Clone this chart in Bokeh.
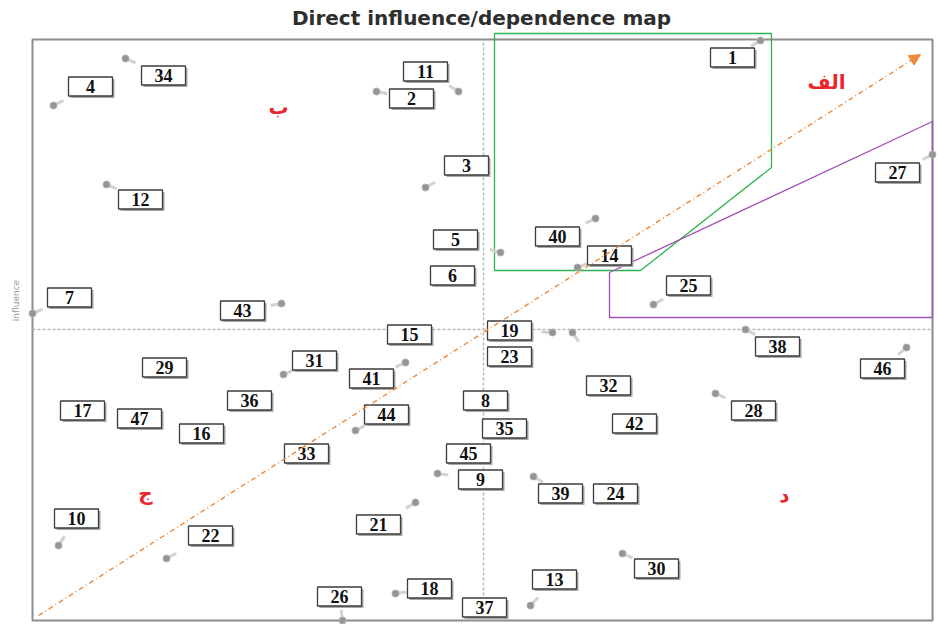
import math
from bokeh.plotting import figure
from bokeh.models import Range1d, Arrow, NormalHead, ColumnDataSource
from bokeh.core.properties import value
from bokeh.embed import file_html
from bokeh.resources import INLINE

# ---------------- data ----------------
var_ids = ["1", "2", "3", "4", "5", "6", "7", "8", "9", "10", "11", "12", "13", "14", "15",
           "16", "17", "18", "19", "21", "22", "23", "24", "25", "26", "27", "28", "29", "30",
           "31", "32", "33", "34", "35", "36", "37", "38", "39", "40", "41", "42", "43", "44",
           "45", "46", "47"]
dependence = [728, 344, 393, 21, 468, 420, 0, 453, 405, 26, 426, 74, 498, 545, 377,
              169, 50, 363, 520, 383, 134, 477, 583, 621, 310, 900, 683, 132, 590,
              251, 540, 274, 93, 472, 217, 452, 713, 501, 563, 373, 602, 249, 323,
              436, 874, 107]
influence = [580, 529, 433, 515, 368, 345, 307, 220, 147, 75, 529, 436, 15, 353, 286,
             187, 210, 27, 288, 118, 62, 264, 127, 316, 0, 466, 227, 253, 67,
             246, 288, 167, 562, 192, 220, 13, 291, 144, 402, 258, 197, 317, 190,
             167, 273, 202]
# label-box offsets from each point (layout)
label_dx = [-28, 35, 41, 37, -45, 0, 37, 0, 43, 18, -33, 34, 24, 32, 0,
            0, 0, 34, -43, -37, 44, 0, 0, 35, -3, -35, 38, 0, 34,
            31, 36, 0, 38, 0, 0, 0, 32, 27, -38, -34, 0, -39, 31,
            0, -24, 0]
label_dy = [-17, -7, 22, 19, 13, 0, 16, 0, -6, 27, 20, -15, 26, 12, 0,
            0, 0, 5, 2, -22, 23, 0, 0, 19, 24, -18, -17, 0, -15,
            14, -53, 0, -17, 0, 0, 0, -17, -17, -18, -16, 0, -7, 16,
            0, -21, 0]

mean_dependence = 451
mean_influence = 291

zone_green_x = [462, 739, 739, 608, 462]
zone_green_y = [587, 587, 453, 350, 350]
zone_purple_x = [577, 900, 900, 577]
zone_purple_y = [348, 499, 303, 303]

diagonal_x = [6, 888]
diagonal_y = [5, 566]

zone_names = ["الف", "ب", "ج", "د"]
zone_name_x = [794, 246, 113, 752]
zone_name_y = [539, 514, 128, 126]

title_text = "Direct influence/dependence map"
y_label_text = "influence"

# ---------------- figure ----------------
p = figure(width=938, height=624, x_range=Range1d(-32, 906), y_range=Range1d(-4, 620),
           output_backend="svg", toolbar_location=None,
           x_axis_location=None, y_axis_location=None,
           min_border=0, min_border_left=0, min_border_right=0,
           min_border_top=0, min_border_bottom=0)
p.xgrid.visible = False
p.ygrid.visible = False
p.outline_line_color = None
p.background_fill_color = "white"
p.border_fill_color = "white"

# frame
p.quad(left=0, right=900, bottom=0, top=581, fill_color=None,
       line_color="#8c8c8c", line_width=2)

# quadrant mean lines
p.segment(x0=[mean_dependence, 0], y0=[0, mean_influence],
          x1=[mean_dependence, 900], y1=[581, mean_influence],
          line_color="#b8b8b8", line_width=1.5, line_dash="3 2")

# zones
p.patch(zone_green_x, zone_green_y, fill_color=None, line_color="#2fb34f", line_width=1.3)
p.patch(zone_purple_x, zone_purple_y, fill_color=None, line_color="#a24fb8", line_width=1.3)

# diagonal arrow
p.add_layout(Arrow(end=NormalHead(size=11, fill_color="#f0883a", line_color="#f0883a"),
                   x_start=diagonal_x[0], y_start=diagonal_y[0],
                   x_end=diagonal_x[1], y_end=diagonal_y[1],
                   line_color="#f0883a", line_width=1.4, line_dash="5 3 1 3"))

# points with tails towards their labels
bx = [d + dx for d, dx in zip(dependence, label_dx)]
by = [i + dy for i, dy in zip(influence, label_dy)]
tx, ty = [], []
for d, i, dx, dy in zip(dependence, influence, label_dx, label_dy):
    n = math.hypot(dx, dy)
    if n == 0:
        tx.append(d); ty.append(i)
    else:
        tx.append(d + dx / n * 11); ty.append(i + dy / n * 11)

p.segment(x0=dependence, y0=influence, x1=tx, y1=ty, line_color="#d2d2d2", line_width=3)
p.scatter(dependence, influence, size=7, fill_color="#959595", line_color="#b0b0b0",
          line_width=1)

# label boxes
src = ColumnDataSource(dict(x=bx, y=by, sx=[v + 2 for v in bx], sy=[v - 2 for v in by],
                            t=var_ids))
p.rect(x="sx", y="sy", width=44, height=19, width_units="screen", height_units="screen",
       source=src, fill_color="#a8a8a8", line_color=None)
p.rect(x="x", y="y", width=44, height=19, width_units="screen", height_units="screen",
       source=src, fill_color="white", line_color="#3c3c3c", line_width=1.3)
p.text(x="x", y="y", text="t", source=src, text_align="center", text_baseline="middle",
       text_font=value("Liberation Serif"), text_font_style="bold",
       text_font_size="18px", text_color="#111111")

# zone names
p.text(x=zone_name_x, y=zone_name_y, text=zone_names, text_align="center",
       text_baseline="middle", text_font=value("DejaVu Sans"), text_font_style="bold",
       text_font_size="20px", text_color="#e8262b")

# title and axis label
p.text(x=[449], y=[603], text=[title_text], text_align="center", text_baseline="middle",
       text_font=value("DejaVu Sans"), text_font_style="bold", text_font_size="20px",
       text_color="#2e2e2e")
p.text(x=[-17], y=[320], text=[y_label_text], angle=math.pi / 2, text_align="center",
       text_baseline="middle", text_font=value("DejaVu Sans"), text_font_size="9px",
       text_color="#9a9a9a")

open("out.html", "w").write(file_html(p, INLINE))
